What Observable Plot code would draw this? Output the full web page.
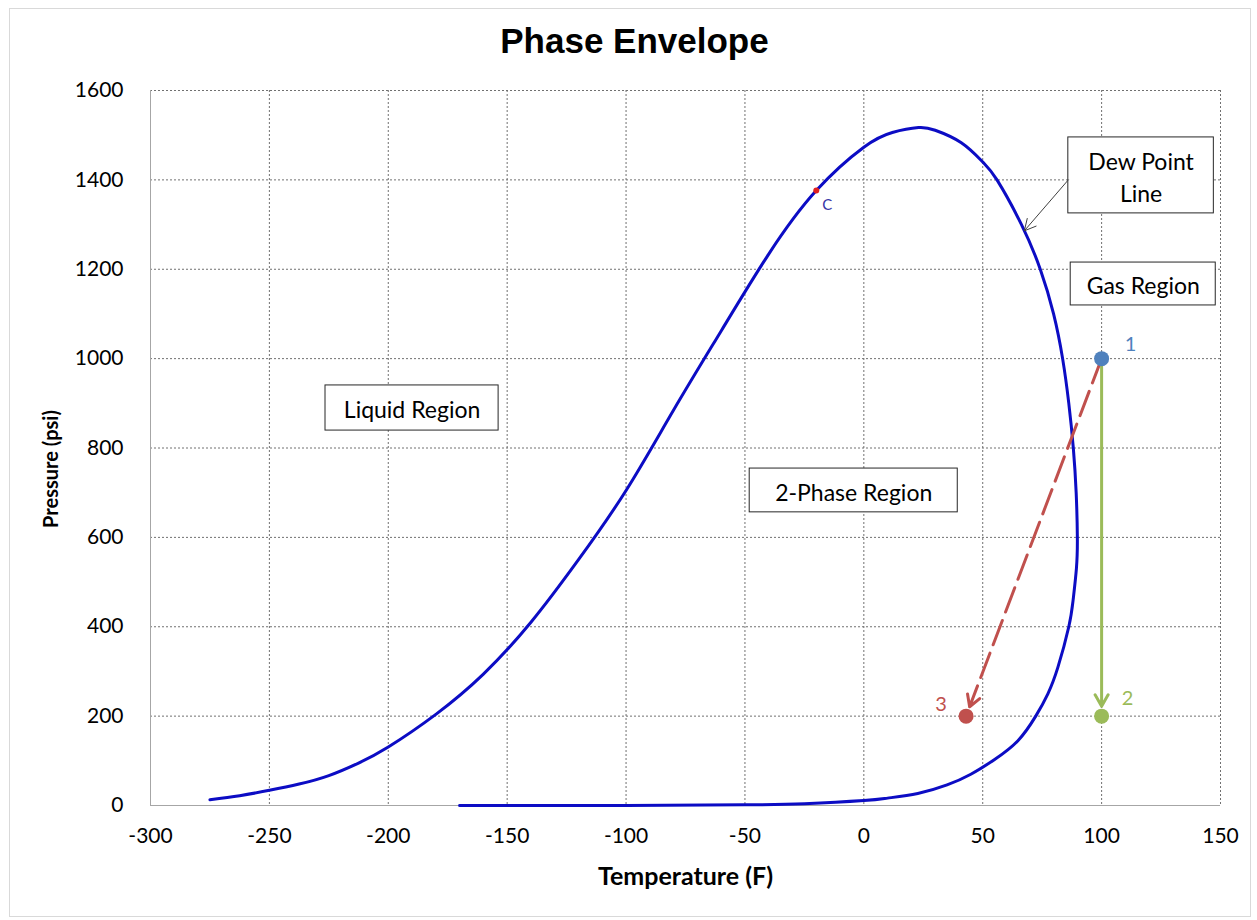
<!DOCTYPE html>
<html><head><meta charset="utf-8">
<script src="https://cdn.jsdelivr.net/npm/d3@7"></script>
<script src="https://cdn.jsdelivr.net/npm/@observablehq/plot@0.6"></script>
<style>
body{margin:0;background:#fff;}
#frame{position:absolute;left:9px;top:8px;width:1242px;height:909px;border:1px solid #d9d9d9;box-sizing:border-box;}
#title{position:absolute;left:14px;width:1241px;top:24px;text-align:center;font:bold 35px "Liberation Sans",Arial,sans-serif;line-height:34px;color:#000;}
#chart{position:absolute;left:0;top:70px;}
</style></head><body>
<div id="frame"></div>
<div id="title">Phase Envelope</div>
<div id="chart"></div>
<script>
// Phase envelope curve (Temperature °F, Pressure psi), in drawing order:
// bubble-point branch up to the top, then dew-point branch back down
const curveT = [-275,-262.5,-250,-237.5,-225,-212.5,-200,-180,-160,-140,-120,-100,-80,-60,-40,-20,0,12,23,30,41,50,56,66.3,74.2,79.8,83.6,86.2,88.1,89.3,89.8,89.4,88,86.2,81.6,77.4,72.3,64.8,55,45,35,22.7,10,0,-25,-50,-100,-170];
const curveP = [13,22,34,48,67,95,131,204,294,410,550,705,885,1062,1234,1376,1473,1506,1517,1511,1483,1440,1400,1300,1200,1100,1000,900,800,700,600,530,459,400,309,250,200,145,103,70,46,27,16.5,11,4,1.4,0.2,0];

// Process points
const pointLabels = ["1","2","3"];
const pointT = [100,100,43];
const pointP = [1000,200,200];
const pointColors = ["#4f81bd","#9bbb59","#c0504d"];

// Critical point
const critT = [-20];
const critP = [1376];
const critLabel = ["C"];

// Region annotation boxes (data coordinates)
const boxLabels = ["Liquid Region","2-Phase Region","Gas Region","Dew Point\nLine"];
const boxT1 = [-226.4,-48,87,86];
const boxT2 = [-153.6,39.5,148,147.2];
const boxP1 = [839,656,1119,1325];
const boxP2 = [940,754,1215,1495];

// Dew point pointer (from box edge to curve)
const pointerT = [86,67.5];
const pointerP = [1400,1286];

// Axis ticks
const xTicks = [-300,-250,-200,-150,-100,-50,0,50,100,150];
const yTicks = [0,200,400,600,800,1000,1200,1400,1600];

const curve = curveT.map((t,i)=>({t, p: curveP[i]}));
const pts = pointT.map((t,i)=>({t, p: pointP[i], label: pointLabels[i], color: pointColors[i]}));
const boxes = boxLabels.map((label,i)=>({label, t1: boxT1[i], t2: boxT2[i], p1: boxP1[i], p2: boxP2[i]}));
const crit = critT.map((t,i)=>({t, p: critP[i], label: critLabel[i]}));
const pointer = [{t1: pointerT[0], p1: pointerP[0], t2: pointerT[1], p2: pointerP[1]}];
const isoT = [{from: pts[0], to: pts[1]}];   // 1 -> 2
const path13 = [{from: pts[0], to: pts[2]}]; // 1 -> 3

const font = "Lato, 'Open Sans', sans-serif";

const chart = Plot.plot({
  width: 1257, height: 850,
  marginLeft: 150, marginRight: 37, marginTop: 20, marginBottom: 115,
  style: {fontFamily: font, color: "#000", background: "transparent"},
  x: {domain: [-300,150]},
  y: {domain: [0,1600]},
  marks: [
    Plot.gridX(xTicks, {stroke: "#707070", strokeOpacity: 1, strokeDasharray: "2,2"}),
    Plot.gridY(yTicks, {stroke: "#707070", strokeOpacity: 1, strokeDasharray: "2,2"}),
    Plot.ruleX([xTicks[0]], {stroke: "#a6a6a6"}),
    Plot.ruleY([yTicks[0]], {stroke: "#a6a6a6"}),
    Plot.axisX(xTicks, {tickSize: 0, tickPadding: 23, fontSize: 21, tickFormat: d => String(d), label: null}),
    Plot.axisY(yTicks, {tickSize: 0, tickPadding: 27, fontSize: 21, tickFormat: d => String(d), label: null}),
    Plot.text(["Temperature (F)"], {text: d => d, frameAnchor: "bottom", dy: 71, fontSize: 25, fontWeight: "bold", lineAnchor: "middle"}),
    Plot.text(["Pressure (psi)"], {text: d => d, frameAnchor: "left", rotate: -90, dx: -99, dy: 21, fontSize: 20, fontWeight: "bold", textAnchor: "middle", lineAnchor: "middle"}),
    Plot.rect(boxes, {x1: "t1", x2: "t2", y1: "p1", y2: "p2", fill: "white", stroke: "#262626", strokeWidth: 1}),
    Plot.text(boxes, {x: d => (d.t1+d.t2)/2, y: d => (d.p1+d.p2)/2, text: "label", fontSize: 23, lineHeight: 1.39, fill: "#000"}),
    Plot.line(curve, {x: "t", y: "p", curve: "natural", stroke: "#0c0cc4", strokeWidth: 3}),
    Plot.arrow(pointer, {x1: "t1", y1: "p1", x2: "t2", y2: "p2", stroke: "#404040", strokeWidth: 1, headLength: 19, headAngle: 55}),
    Plot.arrow(isoT, {x1: d => d.from.t, y1: d => d.from.p, x2: d => d.to.t, y2: d => d.to.p, stroke: pointColors[1], strokeWidth: 3, headLength: 6.5, headAngle: 60, insetEnd: 10}),
    Plot.arrow(path13, {x1: d => d.from.t, y1: d => d.from.p, x2: d => d.to.t, y2: d => d.to.p, stroke: pointColors[2], strokeWidth: 3, strokeDasharray: "26,9", headLength: 6.5, headAngle: 60, insetEnd: 10}),
    Plot.dot(pts, {x: "t", y: "p", r: 7.5, fill: "color", stroke: null}),
    Plot.text(pts.slice(0,1), {x: "t", y: "p", text: "label", fill: "color", fontSize: 20, dx: 29, dy: -14}),
    Plot.text(pts.slice(1,2), {x: "t", y: "p", text: "label", fill: "color", fontSize: 20, dx: 26, dy: -18}),
    Plot.text(pts.slice(2,3), {x: "t", y: "p", text: "label", fill: "color", fontSize: 20, dx: -25, dy: -12}),
    Plot.dot(crit, {x: "t", y: "p", r: 3, fill: "#e02020", stroke: null}),
    Plot.text(crit, {x: "t", y: "p", text: "label", fill: "#3535a5", fontSize: 15, dx: 11, dy: 15})
  ]
});
document.getElementById("chart").appendChild(chart);
</script>
</body></html>
